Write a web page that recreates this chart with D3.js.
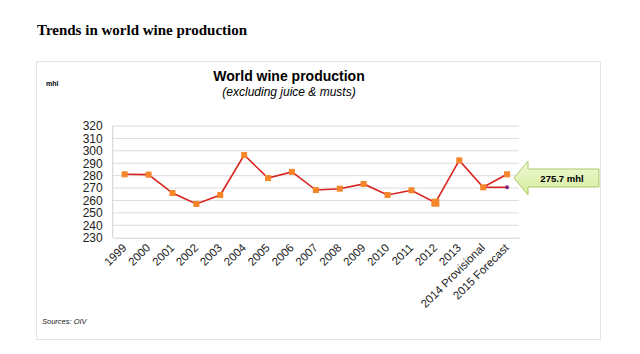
<!DOCTYPE html>
<html>
<head>
<meta charset="utf-8">
<script src="https://d3js.org/d3.v7.min.js"></script>
<style>
  body { margin: 0; background: #fff; }
  svg text { font-family: "Liberation Sans", Arial, sans-serif; }
</style>
</head>
<body>
<div id="chart"></div>
<script>
// data (mhl)
const categories = ["1999", "2000", "2001", "2002", "2003", "2004", "2005", "2006", "2007",
    "2008", "2009", "2010", "2011", "2012", "2013", "2014 Provisional", "2015 Forecast"];
const production = [281.1, 280.8, 266, 257.2, 264.4, 296.6, 278.1, 283, 268.4,
    269.5, 273.3, 264.4, 268.2, 258.2, 292.3, 270.6, 281.1];
const lowForecast = [{cat: "2014 Provisional", v: 270.6}, {cat: "2015 Forecast", v: 270.6}];
const yTicks = [230, 240, 250, 260, 270, 280, 290, 300, 310, 320];
const calloutText = "275.7 mhl";

const W = 640, H = 354;
const svg = d3.select("#chart").append("svg").attr("width", W).attr("height", H);

// page heading
svg.append("text")
    .attr("x", 37).attr("y", 35)
    .style("font-family", "'Liberation Serif', 'Times New Roman', serif")
    .style("font-weight", "bold").style("font-size", "15px")
    .text("Trends in world wine production");

// panel frame
svg.append("rect")
    .attr("x", 36.5).attr("y", 61.5).attr("width", 564).attr("height", 278)
    .attr("fill", "#fff").attr("stroke", "#e4e4e4");

svg.append("text").attr("x", 46).attr("y", 86)
    .style("font-size", "7px").style("font-weight", "bold").text("mhl");

svg.append("text").attr("x", 289).attr("y", 81).attr("text-anchor", "middle")
    .style("font-size", "14px").style("font-weight", "bold").text("World wine production");
svg.append("text").attr("x", 289).attr("y", 96).attr("text-anchor", "middle")
    .style("font-size", "12px").style("font-style", "italic").text("(excluding juice & musts)");

svg.append("text").attr("x", 42).attr("y", 324).attr("fill", "#222")
    .style("font-size", "7.5px").style("font-style", "italic").text("Sources: OIV");

const plot = {left: 112.7, right: 519, top: 126, bottom: 237.7};

const x = d3.scaleBand().domain(categories).range([plot.left, plot.right]);
const y = d3.scaleLinear().domain([230, 320]).range([plot.bottom, plot.top]);
const cx = d => x(d) + x.bandwidth() / 2;

// grid lines
svg.append("g").selectAll("line")
    .data(yTicks.slice(1))
    .join("line")
    .attr("x1", plot.left).attr("x2", plot.right)
    .attr("y1", d => y(d)).attr("y2", d => y(d))
    .attr("stroke", "#dcdcdc").attr("stroke-width", 1);

// left axis line
svg.append("line")
    .attr("x1", plot.left).attr("x2", plot.left)
    .attr("y1", plot.top).attr("y2", plot.bottom)
    .attr("stroke", "#d0d0d0");

const yAxis = svg.append("g")
    .attr("transform", `translate(${plot.left},0)`)
    .call(d3.axisLeft(y).tickValues(yTicks).tickSize(0).tickPadding(10));
yAxis.select(".domain").remove();
yAxis.selectAll("text").style("font-size", "12px").attr("fill", "#222");

const xAxis = svg.append("g")
    .attr("transform", `translate(0,${plot.bottom})`)
    .call(d3.axisBottom(x).tickSize(0));
xAxis.select(".domain").attr("stroke", "#d0d0d0");
xAxis.selectAll("text")
    .style("font-size", "11.5px").attr("fill", "#222")
    .attr("text-anchor", "end")
    .attr("dx", "0.3em").attr("dy", "0")
    .attr("transform", "translate(-2,11) rotate(-45)");

// lower forecast branch
svg.append("path")
    .datum(lowForecast)
    .attr("fill", "none").attr("stroke", "#d9231f").attr("stroke-width", 1.6)
    .attr("d", d3.line().x(d => cx(d.cat)).y(d => y(d.v)));
svg.append("circle")
    .attr("cx", cx(lowForecast[1].cat)).attr("cy", y(lowForecast[1].v)).attr("r", 2)
    .attr("fill", "#7a2a7a");

// main series
const series = categories.map((c, i) => ({cat: c, v: production[i]}));
svg.append("path")
    .datum(series)
    .attr("fill", "none").attr("stroke", "#d9231f").attr("stroke-width", 1.6)
    .attr("d", d3.line().x(d => cx(d.cat)).y(d => y(d.v)));

svg.append("g").selectAll("rect")
    .data(series)
    .join("rect")
    .attr("x", d => cx(d.cat) - (d.cat === "2012" ? 4 : 3))
    .attr("y", d => y(d.v) - (d.cat === "2012" ? 4 : 3))
    .attr("width", d => d.cat === "2012" ? 8 : 6)
    .attr("height", d => d.cat === "2012" ? 8 : 6)
    .attr("fill", "#f5862a");

// callout arrow
const defs = svg.append("defs");
const grad = defs.append("linearGradient").attr("id", "green").attr("x1", 0).attr("y1", 0).attr("x2", 0).attr("y2", 1);
grad.append("stop").attr("offset", "0%").attr("stop-color", "#f1f9d6");
grad.append("stop").attr("offset", "100%").attr("stop-color", "#d4ec9c");

const ax = 514, ay = 178;
svg.append("path")
    .attr("d", `M${ax},${ay} L${ax + 14},${ay - 17} L${ax + 14},${ay - 9} L599,${ay - 9}
        L599,${ay + 9} L${ax + 14},${ay + 9} L${ax + 14},${ay + 17} Z`)
    .attr("fill", "url(#green)").attr("stroke", "#a9c96a").attr("stroke-width", 1);

svg.append("text").attr("x", 562).attr("y", ay + 3.5).attr("text-anchor", "middle")
    .style("font-size", "9.5px").style("font-weight", "bold").text(calloutText);
</script>
</body>
</html>
